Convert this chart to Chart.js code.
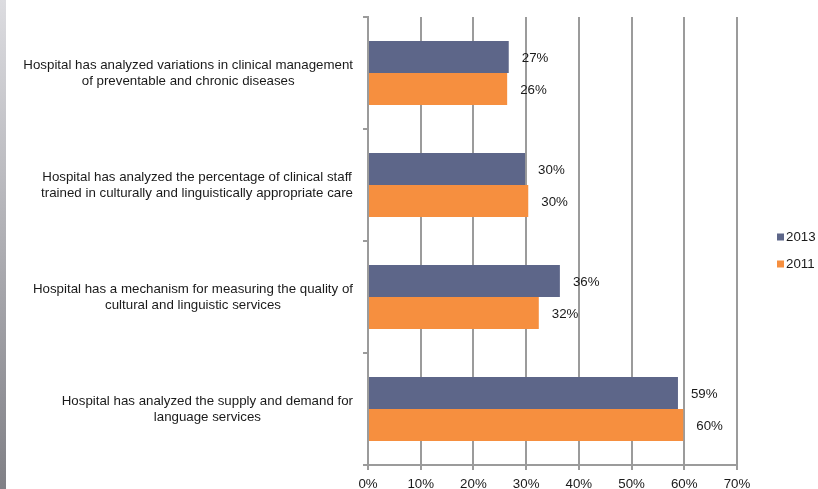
<!DOCTYPE html>
<html><head><meta charset="utf-8">
<script src="https://cdn.jsdelivr.net/npm/chart.js@4/dist/chart.umd.min.js"></script>
<style>html,body{margin:0;padding:0;background:#fff;overflow:hidden}</style>
</head><body>
<canvas id="c" width="818" height="489"></canvas>
<script>
const categories = [
  ["Hospital has analyzed variations in clinical management", "of preventable and chronic diseases"],
  ["Hospital has analyzed the percentage of clinical staff", "trained in culturally and linguistically appropriate care"],
  ["Hospital has a mechanism for measuring the quality of", "cultural and linguistic services"],
  ["Hospital has analyzed the supply and demand for", "language services"]
];
const seriesNames = ["2013", "2011"];
const values2013 = [26.7, 29.8, 36.4, 58.8];
const values2011 = [26.4, 30.4, 32.4, 59.8];
const xTicks = [0, 10, 20, 30, 40, 50, 60, 70];

const FAMILY = '"Liberation Sans", Arial, sans-serif';
const FSIZE = 13.3;
const FONT = FSIZE + 'px ' + FAMILY;
const TEXT = '#1a1a1a';
const GRID = '#9b9b9b';
const COLORS = ['#5d6689', '#f68f3f'];

const bgPlugin = {
  id: 'bg',
  beforeDraw(chart) {
    const ctx = chart.ctx;
    ctx.save();
    ctx.fillStyle = '#fff';
    ctx.fillRect(0, 0, chart.width, chart.height);
    const g = ctx.createLinearGradient(0, 0, 0, chart.height);
    g.addColorStop(0, '#dcdce0');
    g.addColorStop(1, '#808086');
    ctx.fillStyle = g;
    ctx.fillRect(0, 0, 6, chart.height);
    ctx.restore();
  }
};

const catLabels = {
  id: 'catLabels',
  afterDraw(chart) {
    const ys = chart.scales.y;
    const ctx = chart.ctx;
    ctx.save();
    ctx.font = FONT;
    ctx.fillStyle = TEXT;
    ctx.textAlign = 'center';
    ctx.textBaseline = 'middle';
    const lh = 16;
    const right = ys.right - 15;
    chart.data.labels.forEach((lines, i) => {
      const w = Math.max(...lines.map(l => ctx.measureText(l).width));
      const cx = right - w / 2;
      const cy = ys.getPixelForValue(i);
      lines.forEach((l, j) => ctx.fillText(l, cx, cy + (j - (lines.length - 1) / 2) * lh));
    });
    ctx.restore();
  }
};

const valLabels = {
  id: 'valLabels',
  afterDatasetsDraw(chart) {
    const ctx = chart.ctx;
    ctx.save();
    ctx.font = FONT;
    ctx.fillStyle = TEXT;
    ctx.textAlign = 'left';
    ctx.textBaseline = 'middle';
    chart.data.datasets.forEach((ds, di) => {
      chart.getDatasetMeta(di).data.forEach((bar, i) => {
        ctx.fillText(Math.round(ds.data[i]) + '%', bar.x + 13, bar.y + 1);
      });
    });
    ctx.restore();
  }
};

const legendPlugin = {
  id: 'lg',
  afterDraw(chart) {
    const ctx = chart.ctx;
    ctx.save();
    ctx.font = FONT;
    ctx.textAlign = 'left';
    ctx.textBaseline = 'middle';
    const x0 = 777, y0 = 237, dy = 27;
    chart.data.datasets.forEach((ds, i) => {
      const y = y0 + i * dy;
      ctx.fillStyle = ds.backgroundColor;
      ctx.fillRect(x0, y - 3.5, 7, 7);
      ctx.fillStyle = TEXT;
      ctx.fillText(ds.label, x0 + 9, y);
    });
    ctx.restore();
  }
};

new Chart(document.getElementById('c'), {
  type: 'bar',
  data: {
    labels: categories,
    datasets: [
      { label: seriesNames[0], data: values2013, backgroundColor: COLORS[0] },
      { label: seriesNames[1], data: values2011, backgroundColor: COLORS[1] }
    ]
  },
  options: {
    indexAxis: 'y',
    responsive: false,
    animation: false,
    devicePixelRatio: 1,
    layout: { padding: { top: 17, right: 81, bottom: 0, left: 0 } },
    plugins: { legend: { display: false }, tooltip: { enabled: false } },
    datasets: { bar: { categoryPercentage: 0.57, barPercentage: 1, borderWidth: 0 } },
    scales: {
      x: {
        min: xTicks[0], max: xTicks[xTicks.length - 1],
        afterBuildTicks(s) { s.ticks = xTicks.map(v => ({ value: v })); },
        ticks: { callback: v => v + '%', font: { family: FAMILY, size: FSIZE }, color: TEXT, padding: 6, maxRotation: 0, autoSkip: false },
        grid: { color: GRID, lineWidth: 2, tickLength: 5 },
        border: { color: GRID, width: 2 },
        afterFit(s) { s.height = 24; }
      },
      y: {
        ticks: { display: false },
        grid: { offset: true, drawOnChartArea: false, color: GRID, lineWidth: 2, tickLength: 5 },
        border: { color: GRID, width: 2 },
        afterFit(s) { s.width = 368; }
      }
    }
  },
  plugins: [bgPlugin, catLabels, valLabels, legendPlugin]
});
</script>
</body></html>
